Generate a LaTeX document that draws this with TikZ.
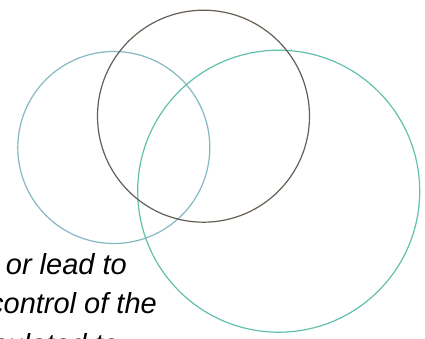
\documentclass[tikz,border=0pt]{standalone}
\usepackage{fontspec}
\setmainfont{Liberation Sans}
\begin{document}
\begin{tikzpicture}[x=1pt,y=-1pt,
  ring/.style={line width=1.2pt},
  txt/.style={font=\fontsize{29}{38}\selectfont\itshape, inner sep=0pt, anchor=base east, text=black}]
\definecolor{leftc}{HTML}{86B8C4}
\definecolor{topc}{HTML}{665E54}
\definecolor{rightc}{HTML}{62C0AD}
\useasboundingbox (0,0) rectangle (425,338);
\clip (0,0) rectangle (425,338);
\fill[white] (0,0) rectangle (425,338);
\draw[ring, leftc] (113.8,147.5) circle[radius=96];
\draw[ring, rightc] (278.7,191.2) circle[radius=141];
\draw[ring, topc] (203.5,116.2) circle[radius=106];
\node[txt] (l1) at (127,274) {or lead to};
\node[txt] (l2) at (157,313) {control of the};
\node[txt] (l3) at (119,354) {manipulated to};
\end{tikzpicture}
\end{document}
